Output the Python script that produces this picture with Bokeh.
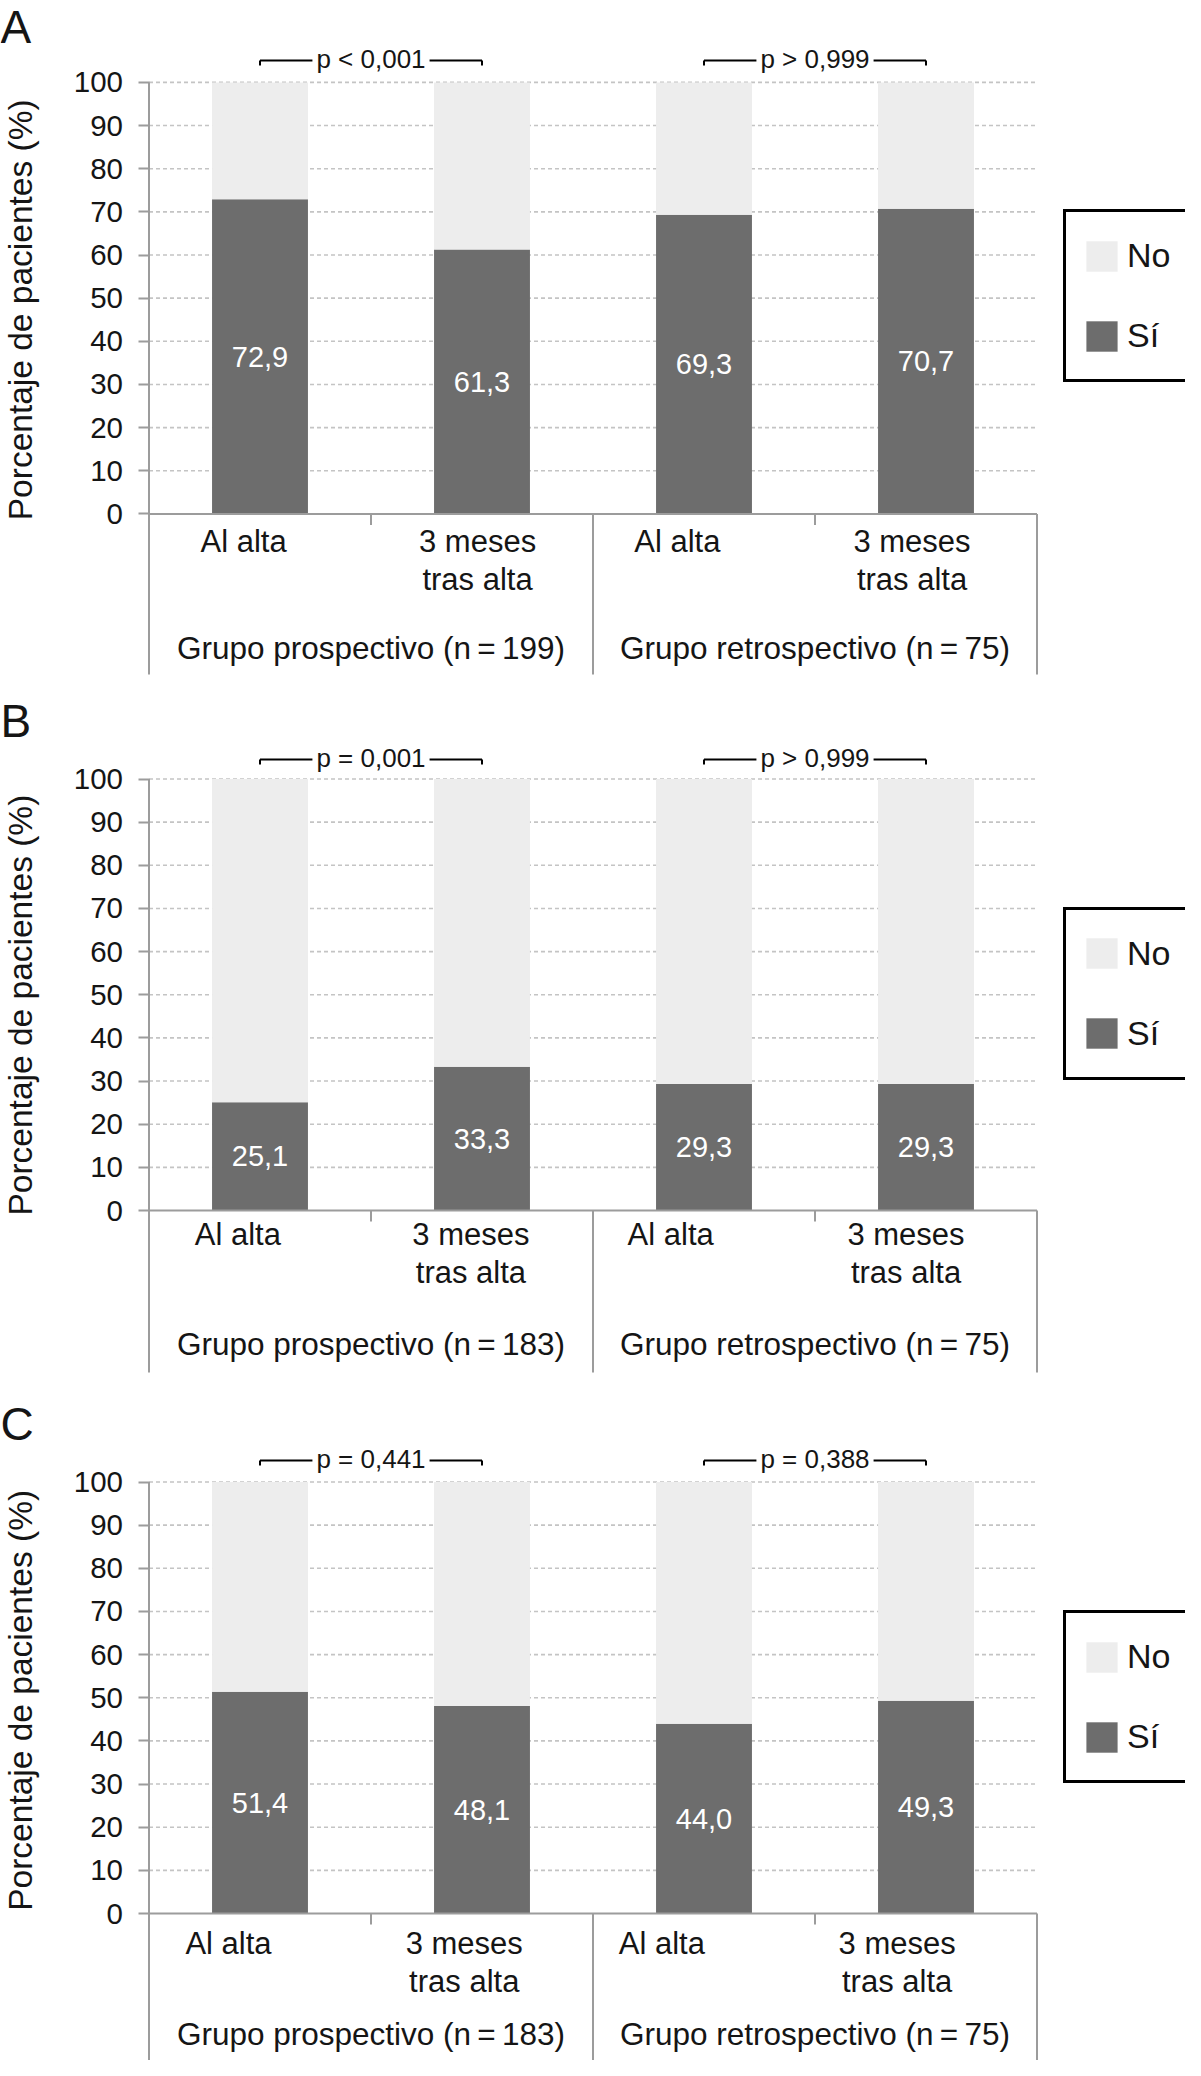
import math
from bokeh.plotting import figure
from bokeh.models import Range1d, LinearAxis, FixedTicker, Legend, LegendItem
from bokeh.layouts import column
from bokeh.embed import file_html
from bokeh.resources import INLINE
from bokeh.core.properties import value

# ---------------- data ----------------
panel_letters = ["A", "B", "C"]
cat_line1 = ["Al alta", "3 meses", "Al alta", "3 meses"]
cat_line2 = ["", "tras alta", "", "tras alta"]
y_ticks = [0, 10, 20, 30, 40, 50, 60, 70, 80, 90, 100]

si_A = [72.9, 61.3, 69.3, 70.7]
si_B = [25.1, 33.3, 29.3, 29.3]
si_C = [51.4, 48.1, 44.0, 49.3]

groups_A = ["Grupo prospectivo (n\u2009=\u2009199)", "Grupo retrospectivo (n\u2009=\u200975)"]
groups_B = ["Grupo prospectivo (n\u2009=\u2009183)", "Grupo retrospectivo (n\u2009=\u200975)"]
groups_C = ["Grupo prospectivo (n\u2009=\u2009183)", "Grupo retrospectivo (n\u2009=\u200975)"]

p_A = ["p < 0,001", "p > 0,999"]
p_B = ["p = 0,001", "p > 0,999"]
p_C = ["p = 0,441", "p = 0,388"]

y_label = "Porcentaje de pacientes (%)"
legend_labels = ["No", "Sí"]

# ---------------- layout / style ----------------
FONT = "Liberation Sans"
W = 1185
UNIT_X = 222.0      # px per category
PX_Y = 4.315        # px per percent
AXIS_X_PX = 148.5   # local px of y axis
DARK = "#6d6d6d"
LIGHT = "#ededed"
AXIS_C = "#9c9c9c"
GRID_C = "#c4c4c4"
TXT = "#151515"

# vertical positions in px (local to each panel)
layouts = [
    dict(height=694, zero=513.4, mid=[27.1, 65.1, 134.1], bottom=674, letter=26.0,
         ptext=58.5, legend=(1063, 312), off=[-0.074, -0.02, -0.12, -0.063], ylab=47.3),
    dict(height=701, zero=516.0, mid=[23.8, 61.8, 133.0], bottom=678, letter=26.0,
         ptext=63.5, legend=(1063, 315.5), off=[-0.10, -0.05, -0.15, -0.09], ylab=47.6),
    dict(height=665, zero=518.0, mid=[29.5, 68.0, 120.5], bottom=665, letter=28.5,
         ptext=63.5, legend=(1063, 277), off=[-0.142, -0.08, -0.19, -0.13], ylab=49.4),
]


def fmt(v):
    return f"{v:.1f}".replace(".", ",")


def make_panel(letter, si, groups, pvals, lay):
    H = lay["height"]
    zero = lay["zero"]
    x0 = -AXIS_X_PX / UNIT_X
    p = figure(width=W, height=H, output_backend="svg", toolbar_location=None, tools="",
               x_axis_type=None, y_axis_type=None, min_border=0,
               x_range=Range1d(x0, (W - AXIS_X_PX) / UNIT_X),
               y_range=Range1d(-(H - zero) / PX_Y, zero / PX_Y))
    p.outline_line_color = None
    p.background_fill_color = "white"
    p.border_fill_color = "white"

    def py(px):  # local px (from top) -> data y
        return (zero - px) / PX_Y

    n = len(si)
    xs = [i + 0.5 for i in range(n)]
    no = [100 - v for v in si]
    ymin = py(lay["bottom"])

    # grid lines
    gt = [t for t in y_ticks if t > 0]
    p.segment(x0=[0] * len(gt), x1=[n] * len(gt), y0=gt, y1=gt,
              line_color=GRID_C, line_width=1.6, line_dash="4 3")

    # bars
    r_si = p.vbar(x=xs, bottom=0, top=si, width=0.432, fill_color=DARK, line_color=None)
    r_no = p.vbar(x=xs, bottom=si, top=[s + q for s, q in zip(si, no)], width=0.432,
                  fill_color=LIGHT, line_color=None)

    # axis lines / separators
    p.segment(x0=[0], x1=[n], y0=[0], y1=[0], line_color=AXIS_C, line_width=2)
    p.segment(x0=[0], x1=[0], y0=[100], y1=[ymin], line_color=AXIS_C, line_width=2)
    full = [k for k in range(2, n + 1, 2)]
    p.segment(x0=full, x1=full, y0=[0] * len(full), y1=[ymin] * len(full),
              line_color=AXIS_C, line_width=2)
    short = [k for k in range(1, n, 2)]
    p.segment(x0=short, x1=short, y0=[0] * len(short), y1=[-11 / PX_Y] * len(short),
              line_color=AXIS_C, line_width=2)

    # y axis (ticks + labels)
    ax = LinearAxis(ticker=FixedTicker(ticks=y_ticks), fixed_location=0)
    ax.axis_line_color = None
    ax.major_tick_line_color = AXIS_C
    ax.major_tick_line_width = 2
    ax.major_tick_out = 11
    ax.major_tick_in = 0
    ax.minor_tick_line_color = None
    ax.major_label_standoff = 15
    ax.major_label_text_font = FONT
    ax.major_label_text_font_size = "29.5px"
    ax.major_label_text_color = TXT
    p.add_layout(ax, "left")

    # value labels
    p.text(x=xs, y=[v / 2 for v in si], text=[fmt(v) for v in si],
           text_font=value(FONT), text_font_size="29px", text_color="white",
           text_align="center", text_baseline="middle")

    # category labels
    m1, m2, m3 = lay["mid"]
    cx = [x + o for x, o in zip(xs, lay["off"])]
    p.text(x=cx, y=[-m1 / PX_Y] * n, text=cat_line1,
           text_font=value(FONT), text_font_size="31px", text_color=TXT,
           text_align="center", text_baseline="middle")
    p.text(x=cx, y=[-m2 / PX_Y] * n, text=cat_line2,
           text_font=value(FONT), text_font_size="31px", text_color=TXT,
           text_align="center", text_baseline="middle")
    gx = [2 * g + 1 for g in range(len(groups))]
    p.text(x=gx, y=[-m3 / PX_Y] * len(groups), text=groups,
           text_font=value(FONT), text_font_size="31.5px", text_color=TXT,
           text_align="center", text_baseline="middle")

    # p-value brackets
    yb = py(lay["ptext"] + 1.5)
    bl = [2 * g + 0.5 for g in range(len(pvals))]
    br = [2 * g + 1.5 for g in range(len(pvals))]
    p.segment(x0=bl, x1=br, y0=[yb] * len(bl), y1=[yb] * len(bl), line_color="black", line_width=2)
    ends = bl + br
    p.segment(x0=ends, x1=ends, y0=[yb] * len(ends), y1=[yb - 5 / PX_Y] * len(ends),
              line_color="black", line_width=2)
    p.text(x=gx, y=[py(lay["ptext"])] * len(pvals), text=pvals,
           text_font=value(FONT), text_font_size="26px", text_color=TXT,
           text_align="center", text_baseline="middle",
           background_fill_color="white", padding=4)

    # panel letter
    p.text(x=[x0], y=[py(lay["letter"])], text=[letter],
           text_font=value(FONT), text_font_size="46px", text_color=TXT,
           text_align="left", text_baseline="middle")

    # y label
    p.text(x=[(19.5 - AXIS_X_PX) / UNIT_X], y=[lay["ylab"]], text=[y_label], angle=math.pi / 2,
           text_font=value(FONT), text_font_size="33.5px", text_color=TXT,
           text_align="center", text_baseline="middle")

    legend = Legend(items=[LegendItem(label=legend_labels[0], renderers=[r_no]),
                           LegendItem(label=legend_labels[1], renderers=[r_si])],
                    location=lay["legend"], orientation="vertical", margin=0,
                    padding=16, spacing=25, glyph_width=39, glyph_height=38,
                    label_standoff=6, label_height=55,
                    label_text_font=FONT, label_text_font_size="34px", label_text_color=TXT,
                    border_line_color="black", border_line_width=3, border_line_alpha=1.0,
                    background_fill_color="white", background_fill_alpha=1.0)
    p.add_layout(legend)
    return p


panels = [
    make_panel(panel_letters[0], si_A, groups_A, p_A, layouts[0]),
    make_panel(panel_letters[1], si_B, groups_B, p_B, layouts[1]),
    make_panel(panel_letters[2], si_C, groups_C, p_C, layouts[2]),
]
page = column(*panels, spacing=0)
open("out.html", "w").write(file_html(page, INLINE))
